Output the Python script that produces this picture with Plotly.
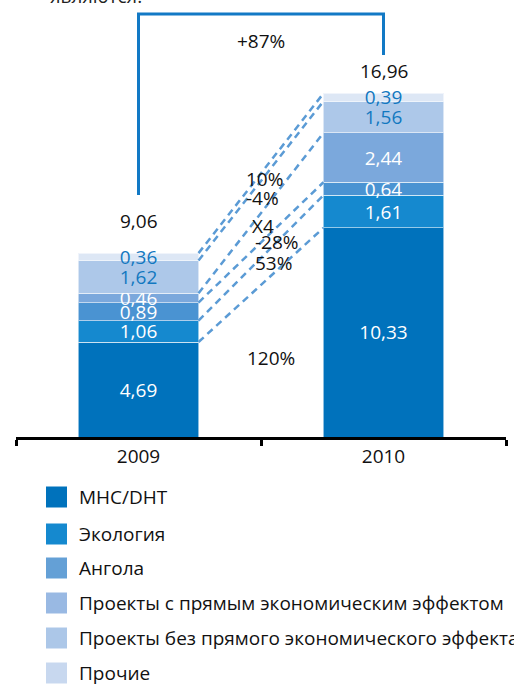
import numpy as np
import plotly.graph_objects as go

# Budget structure by programme, 2009 vs 2010
years = ["2009", "2010"]
series_names = [
    "МНС/DHT",
    "Экология",
    "Ангола",
    "Проекты с прямым экономическим эффектом",
    "Проекты без прямого экономического эффекта",
    "Прочие",
]
values_2009 = [4.69, 1.06, 0.89, 0.46, 1.62, 0.36]
values_2010 = [10.33, 1.61, 0.64, 2.44, 1.56, 0.39]
totals = [9.06, 16.96]
total_change = "+87%"
# change labels per series, bottom to top
change_labels = ["120%", "53%", "-28%", "X4", "-4%", "10%"]

bar_colors = ["#0072BC", "#1589CF", "#4A93D2", "#7BA8DC", "#ADC8E9", "#DDE7F5"]
legend_colors = ["#0072BC", "#1589CF", "#64A0D6", "#99B9E3", "#ACC7E8", "#C8D8EF"]
label_colors = ["white", "white", "white", "white", "#1278C0", "#1278C0"]

FONT = "Open Sans"
W, H = 514, 686
ML, MR, MT, MB = 16, 8, 0, 249
PW, PH = W - ML - MR, H - MT - MB
Y_MAX = 21.58
BAR_W = 0.49


def fmt(v):
    return f"{v:.2f}".replace(".", ",")


def px_to_paper(px, py):
    return (px - ML) / PW, (H - MB - py) / PH


fig = go.Figure()

for i, name in enumerate(series_names):
    vals = [values_2009[i], values_2010[i]]
    fig.add_trace(go.Bar(
        x=years, y=vals, name=name, width=BAR_W,
        marker=dict(color=bar_colors[i], line=dict(color="rgba(255,255,255,0.55)", width=1)),
        text=[fmt(v) for v in vals],
        textposition="inside", insidetextanchor="middle",
        constraintext="none", textangle=0,
        textfont=dict(family=FONT, size=19, color=label_colors[i]),
        showlegend=False, hoverinfo="skip",
    ))

# dashed connectors between the tops of matching segments
cum09 = np.cumsum(values_2009)
cum10 = np.cumsum(values_2010)
shapes = []
for a, b in zip(cum09, cum10):
    shapes.append(dict(type="line", xref="x", yref="y",
                       x0=BAR_W / 2, y0=a, x1=1 - BAR_W / 2, y1=b,
                       line=dict(color="#5B9BD5", width=2.5, dash="7px,5px")))

# growth bracket spanning both bars
shapes.append(dict(type="path", xref="x", yref="y",
                   path=f"M 0,{totals[0] + 2.89} L 0,20.89 L 1,20.89 L 1,{totals[1] + 1.9}",
                   line=dict(color="#1279C5", width=3)))

annotations = []
annotations.append(dict(x=0.5, y=19.56, xref="x", yref="y", text=total_change,
                        showarrow=False, font=dict(family=FONT, size=19, color="#111")))
annotations.append(dict(x=0, y=totals[0] + 1.6, xref="x", yref="y", text=fmt(totals[0]),
                        showarrow=False, font=dict(family=FONT, size=19, color="#111")))
annotations.append(dict(x=1, y=totals[1] + 1.1, xref="x", yref="y", text=fmt(totals[1]),
                        showarrow=False, font=dict(family=FONT, size=19, color="#111")))

# change labels in the gap between the bars
change_pos = [(0.54, 3.90), (0.55, 8.60), (0.565, 9.65), (0.51, 10.42), (0.505, 11.78), (0.515, 12.72)]
for lbl, (cx, cy) in zip(change_labels, change_pos):
    annotations.append(dict(x=cx, y=cy, xref="x", yref="y", text=lbl, showarrow=False,
                            font=dict(family=FONT, size=19, color="#111")))

# clipped heading line above the chart
hx, hy = px_to_paper(48, 0)
annotations.append(dict(x=hx, y=hy, xref="paper", yref="paper", xanchor="left", yanchor="bottom",
                        yshift=-11, text="являются.", showarrow=False,
                        font=dict(family=FONT, size=19, color="#222")))

# legend drawn as swatches + labels
row_centers = [497, 534, 568, 603, 638, 673]
for name, col, cy in zip(series_names, legend_colors, row_centers):
    x0, y0 = px_to_paper(46, cy + 10.5)
    x1, y1 = px_to_paper(67, cy - 10.5)
    shapes.append(dict(type="rect", xref="paper", yref="paper", x0=x0, y0=y0, x1=x1, y1=y1,
                       fillcolor=col, line=dict(width=0)))
    tx, ty = px_to_paper(77, cy)
    annotations.append(dict(x=tx, y=ty, xref="paper", yref="paper", xanchor="left", yanchor="middle",
                            text=name, showarrow=False,
                            font=dict(family=FONT, size=19, color="#111")))

fig.update_layout(
    width=W, height=H,
    margin=dict(l=ML, r=MR, t=MT, b=MB),
    barmode="stack", bargap=0.51,
    plot_bgcolor="white", paper_bgcolor="white",
    shapes=shapes, annotations=annotations,
    xaxis=dict(type="category", range=[-0.5, 1.5], showline=True, linecolor="black", linewidth=2.5,
               ticks="outside", tickson="boundaries", ticklen=6, tickwidth=2.5, tickcolor="black",
               tickfont=dict(family=FONT, size=19, color="#111"), showgrid=False, zeroline=False),
    yaxis=dict(range=[0, Y_MAX], visible=False, showgrid=False, zeroline=False),
)

fig.write_html("out.html")
